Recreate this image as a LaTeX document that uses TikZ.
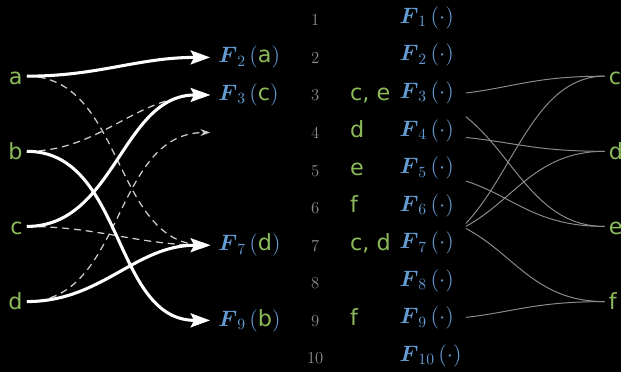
\documentclass[tikz,border=0pt]{standalone}
\usepackage{fix-cm}
\usepackage{amsmath}
\usepackage{fontspec}
\newfontfamily\lettfont{DejaVu Sans}
\usetikzlibrary{arrows.meta,calc}

\definecolor{lettgreen}{RGB}{140,186,90}
\definecolor{fblue}{RGB}{100,156,212}
\definecolor{numgray}{RGB}{140,140,140}
\definecolor{linkgray}{RGB}{140,140,140}

\begin{document}
\begin{tikzpicture}[
  lett/.style={text=lettgreen, font=\lettfont\fontsize{16}{19}\selectfont, text height=12pt, text depth=0pt, inner xsep=0.1cm},
  mid/.style={text=lettgreen, font=\lettfont\fontsize{16}{19}\selectfont, anchor=base west, inner sep=0pt},
  num/.style={text=numgray, font=\fontsize{12}{14}\selectfont, anchor=base, inner sep=0pt},
  fcol/.style={text=fblue, font=\fontsize{16}{19}\selectfont, anchor=base west, inner sep=0pt},
  tgt/.style={text=fblue, font=\fontsize{16}{19}\selectfont, anchor=west, inner xsep=0.2cm, inner ysep=0pt},
  main/.style={white, line width=2.2pt, -{Stealth[length=14pt,width=10pt,inset=2.5pt]}},
  alt/.style={white!80!black, line width=0.9pt, dash pattern=on 5pt off 3.5pt, -{Stealth[length=7pt,width=5pt]}},
  link/.style={linkgray, line width=0.7pt}
]
\fill[black] (0,0.5) rectangle (15.675,-8.875);

% table of hash functions
\foreach \i in {1,...,10} {
  \node[num] (n\i) at (7.95, {-(\i-1)*0.9475-0.15}) {\i};
  \node[fcol] (f\i) at (10.07, {-(\i-1)*0.9475-0.09}) {$\boldsymbol{F}_{\i}\,(\cdot)$};
  \coordinate (r\i) at (11.75, {-(\i-1)*0.9475});
}
\foreach \i/\txt in {3/{c, e},4/d,5/e,6/f,7/{c, d},9/f} {
  \node[mid] (m\i) at (8.825, {-(\i-1)*0.9475-0.13}) {\txt};
}

% keys on both sides
\foreach \k/\y in {a/1.5,b/3.5,c/5.5,d/7.5} {
  \node[lett, anchor=east] (l\k) at (0.675, {-\y*0.9475}) {\k};
}
\foreach \k/\y in {c/1.5,d/3.5,e/5.5,f/7.5} {
  \node[lett, anchor=west] (r\k) at (15.25, {-\y*0.9475}) {\k};
}

% targets of the first choice
\node[tgt] (t2) at (5.3, {-1*0.9475}) {$\boldsymbol{F}_{2}\,(\text{\lettfont\fontsize{16}{19}\selectfont\color{lettgreen}a})$};
\node[tgt] (t3) at (5.3, {-2*0.9475}) {$\boldsymbol{F}_{3}\,(\text{\lettfont\fontsize{16}{19}\selectfont\color{lettgreen}c})$};
\coordinate (t4) at (5.3, {-3*0.9475});
\node[tgt] (t7) at (5.3, {-6*0.9475}) {$\boldsymbol{F}_{7}\,(\text{\lettfont\fontsize{16}{19}\selectfont\color{lettgreen}d})$};
\node[tgt] (t9) at (5.3, {-8*0.9475}) {$\boldsymbol{F}_{9}\,(\text{\lettfont\fontsize{16}{19}\selectfont\color{lettgreen}b})$};

\draw[alt] (la.east) to[out=0,in=180] (t7.west);
\draw[alt] (lb.east) to[out=0,in=180] (t3.west);
\draw[alt] (lc.east) to[out=0,in=180] (t7.west);
\draw[alt] (ld.east) to[out=0,in=180] (t4);

\draw[main] (la.east) to[out=0,in=180] (t2.west);
\draw[main] (lb.east) to[out=0,in=180] (t9.west);
\draw[main] (lc.east) to[out=0,in=180] (t3.west);
\draw[main] (ld.east) to[out=0,in=180] (t7.west);

% rows to keys
\foreach \r/\dy/\t in {3/0.05/rc, 3/-0.55/re, 4/-0.125/rd, 5/-0.275/re, 6/-0.525/rf, 7/0.55/rc, 7/0.475/rd, 9/0.075/rf} {
  \coordinate (s) at ([yshift=\dy cm]r\r);
  \draw[link] (s) .. controls ($(s)!0.35!(\t.west)$) and ([xshift=-1.75cm]\t.west) .. (\t.west);
}
\end{tikzpicture}
\end{document}
